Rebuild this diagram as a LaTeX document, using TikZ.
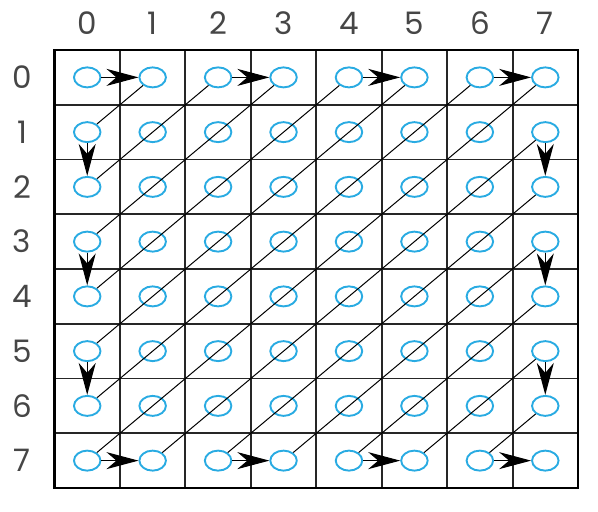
\documentclass[tikz,border=0pt]{standalone}
\usepackage{fontspec}
\setmainfont{Poppins}
\usetikzlibrary{arrows.meta,shapes.geometric}
\definecolor{circ}{RGB}{41,171,226}
\definecolor{lbl}{RGB}{70,70,70}
\begin{document}
\begin{tikzpicture}[x=1pt,y=-1pt,
  cell/.style={ellipse, draw=circ, line width=1.9pt, minimum width=26.5pt, minimum height=20pt, inner sep=0pt},
  zig/.style={draw=black, line width=1pt},
  hop/.style={zig, -{Stealth[length=32pt 0,width=17pt 0,inset=10pt 0]}},
  lab/.style={font=\fontsize{31}{31}\selectfont, text=lbl},
  gridline/.style={draw=black!85, line width=1.9pt},
  frame/.style={draw=black, line width=2.8pt}]
\useasboundingbox (0,0) rectangle (598,512);
% grid
\foreach \k in {1,...,7}{
  \draw[gridline] ({54.5+65.44*\k},50) -- ({54.5+65.44*\k},488);
  \draw[gridline] (54.5,{50+54.75*\k}) -- (578,{50+54.75*\k});
}
\draw[frame] (54.5,50) rectangle (578,488);
% labels
\foreach \k in {0,...,7}{
  \node[lab] (c\k) at ({54.5+65.44*(\k+0.5)},23) {\k};
  \node[lab] (r\k) at (22,{50+54.75*(\k+0.5)}) {\k};
}
% cells
\foreach \r in {0,...,7}{
  \foreach \c in {0,...,7}{
    \node[cell] (n\r\c) at ({54.5+65.44*(\c+0.5)},{50+54.75*(\r+0.5)}) {};
  }
}
% zigzag steps
\foreach \a/\b in {00/01,10/20,02/03,30/40,04/05,50/60,06/07,70/71,17/27,72/73,37/47,74/75,57/67,76/77}{
  \draw[hop] (n\a) -- (n\b);
}
% diagonals
\foreach \a/\b in {01/10,20/02,03/30,40/04,05/50,60/06,07/70,71/17,27/72,73/37,47/74,75/57,67/76}{
  \draw[zig] (n\a) -- (n\b);
}
\end{tikzpicture}
\end{document}
